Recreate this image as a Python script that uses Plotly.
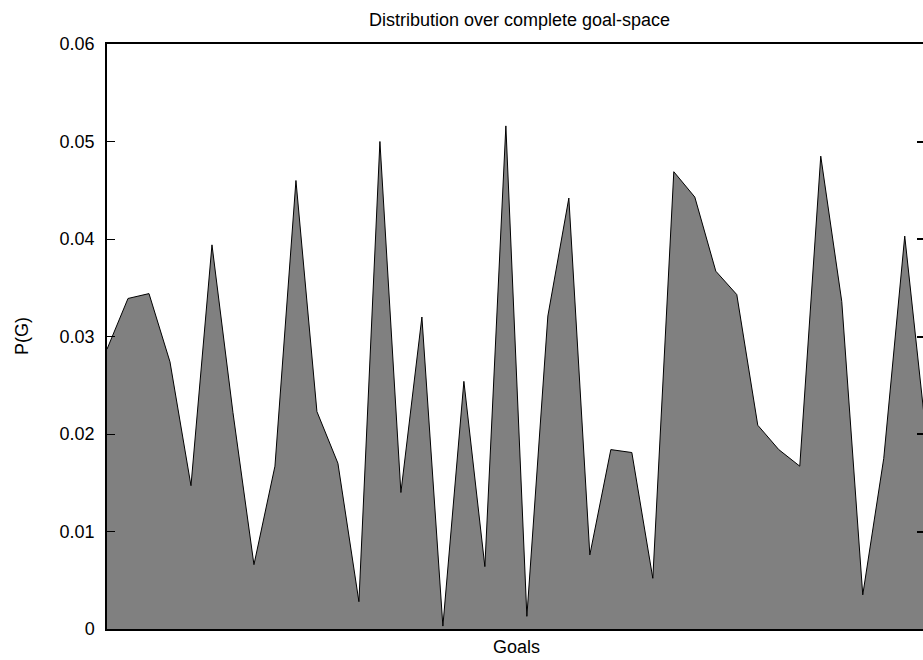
import plotly.graph_objects as go

goal_index = list(range(40))
p_goal = [0.0287, 0.0339, 0.0344, 0.0274, 0.0147, 0.0394, 0.0222, 0.0066, 0.0167, 0.0460,
          0.0223, 0.0170, 0.0028, 0.0500, 0.0140, 0.0320, 0.0003, 0.0254, 0.0064, 0.0516,
          0.0013, 0.0321, 0.0442, 0.0076, 0.0184, 0.0181, 0.0052, 0.0469, 0.0443, 0.0367,
          0.0343, 0.0209, 0.0184, 0.0167, 0.0485, 0.0336, 0.0035, 0.0175, 0.0403, 0.0203]
y_ticks = [0, 0.01, 0.02, 0.03, 0.04, 0.05, 0.06]
y_tick_labels = ["0", "0.01", "0.02", "0.03", "0.04", "0.05", "0.06"]

FONT = "Liberation Sans, Arial, sans-serif"
W, H = 923, 660

fig = go.Figure()
fig.add_trace(go.Scatter(
    x=goal_index, y=p_goal, mode="lines", fill="tozeroy",
    fillcolor="#808080", line=dict(color="black", width=1),
    showlegend=False, hoverinfo="skip"))
# invisible trace to activate the mirrored right axis
fig.add_trace(go.Scatter(x=[0], y=[0], yaxis="y2", mode="markers",
                         marker=dict(opacity=0), showlegend=False, hoverinfo="skip"))

fig.update_layout(
    width=W, height=H,
    margin=dict(l=107, r=0, t=44, b=31),
    paper_bgcolor="white", plot_bgcolor="white",
    font=dict(family=FONT, size=18, color="black"),
    title=dict(text="Distribution over complete goal-space",
               x=519.5 / W, xref="container", xanchor="center",
               y=1 - 20 / H, yref="container", yanchor="middle",
               font=dict(family=FONT, size=18, color="black")),
    xaxis=dict(range=[0, 38.87], showgrid=False, zeroline=False,
               showticklabels=False, ticks="", showline=True,
               linecolor="black", linewidth=1.5, mirror=True),
    yaxis=dict(range=[0, 0.06], tickvals=y_ticks, ticktext=y_tick_labels,
               ticks="inside", ticklen=8, tickcolor="black", tickwidth=1,
               showgrid=False, zeroline=False, showline=True,
               linecolor="black", linewidth=1.5, ticklabelstandoff=7),
    yaxis2=dict(range=[0, 0.06], tickvals=y_ticks, overlaying="y", side="right",
                anchor="x", ticks="inside", ticklen=6, tickcolor="black", tickwidth=1.5,
                showticklabels=False, showgrid=False, zeroline=False, showline=False),
    annotations=[
        dict(text="Goals", xref="paper", yref="paper", x=(516 - 107) / 816, y=-18 / 585,
             xanchor="center", yanchor="middle", showarrow=False,
             font=dict(family=FONT, size=18, color="black")),
        dict(text="P(G)", xref="paper", yref="paper", x=-(107 - 21.5) / 816, y=0.5,
             xanchor="center", yanchor="middle", textangle=-90, showarrow=False,
             font=dict(family=FONT, size=18, color="black")),
    ],
)

fig.write_html("out.html",
               config={"displayModeBar": False},
               post_script="document.body.style.margin='0';"
                           "document.documentElement.style.overflow='hidden';")
